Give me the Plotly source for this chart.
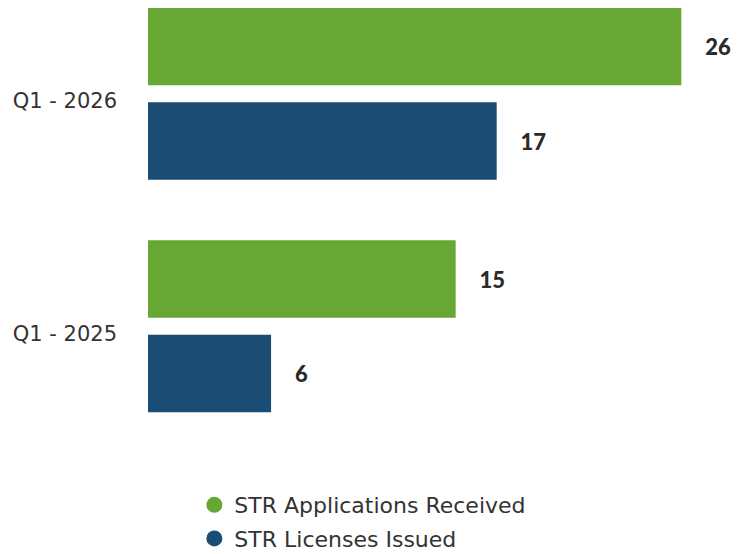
import plotly.graph_objects as go

categories = ["Q1 - 2026", "Q1 - 2025"]
applications = [26, 15]
licenses = [17, 6]
series_names = ["STR Applications Received", "STR Licenses Issued"]
GREEN = "#67a834"
BLUE = "#1b4d74"

fig = go.Figure()
for i, (name, vals, col) in enumerate([(series_names[0], applications, GREEN), (series_names[1], licenses, BLUE)]):
    fig.add_trace(go.Bar(
        y=categories, x=vals, orientation="h", name=name,
        marker=dict(color=col, line=dict(width=0)),
        text=vals, texttemplate="\u00a0\u00a0\u00a0\u00a0%{x}", textposition="outside",
        textfont=dict(family="Lato", size=22, color="#2a2a2a", weight=900),
        cliponaxis=False, showlegend=False,
    ))
    fig.add_trace(go.Scatter(
        x=[None], y=[None], mode="markers", name=name, legendgroup=f"g{i}",
        marker=dict(color=col, size=20, symbol="circle"),
    ))

# page body has an 8px default margin, so the figure is 8px smaller
fig.update_layout(
    width=742, height=546,
    margin=dict(l=140, r=0, t=0, b=124, autoexpand=False),
    paper_bgcolor="white", plot_bgcolor="white",
    barmode="group", bargap=0.187, bargroupgap=0.18,
    showlegend=True,
    legend=dict(x=0.077, xanchor="left", y=-0.128, yanchor="top",
                font=dict(family="DejaVu Sans", size=22, color="#333333"),
                tracegroupgap=2, itemsizing="trace"),
    xaxis=dict(range=[0, 29.35], visible=False, fixedrange=True),
    yaxis=dict(type="category", categoryorder="array", categoryarray=categories,
               range=[1.446, -0.369], showgrid=False, showline=False, zeroline=False,
               ticks="", ticklabelstandoff=30, ticklabelshift=-7, automargin=False,
               tickfont=dict(family="DejaVu Sans", size=21, color="#333333")),
)

fig.write_html("out.html")
